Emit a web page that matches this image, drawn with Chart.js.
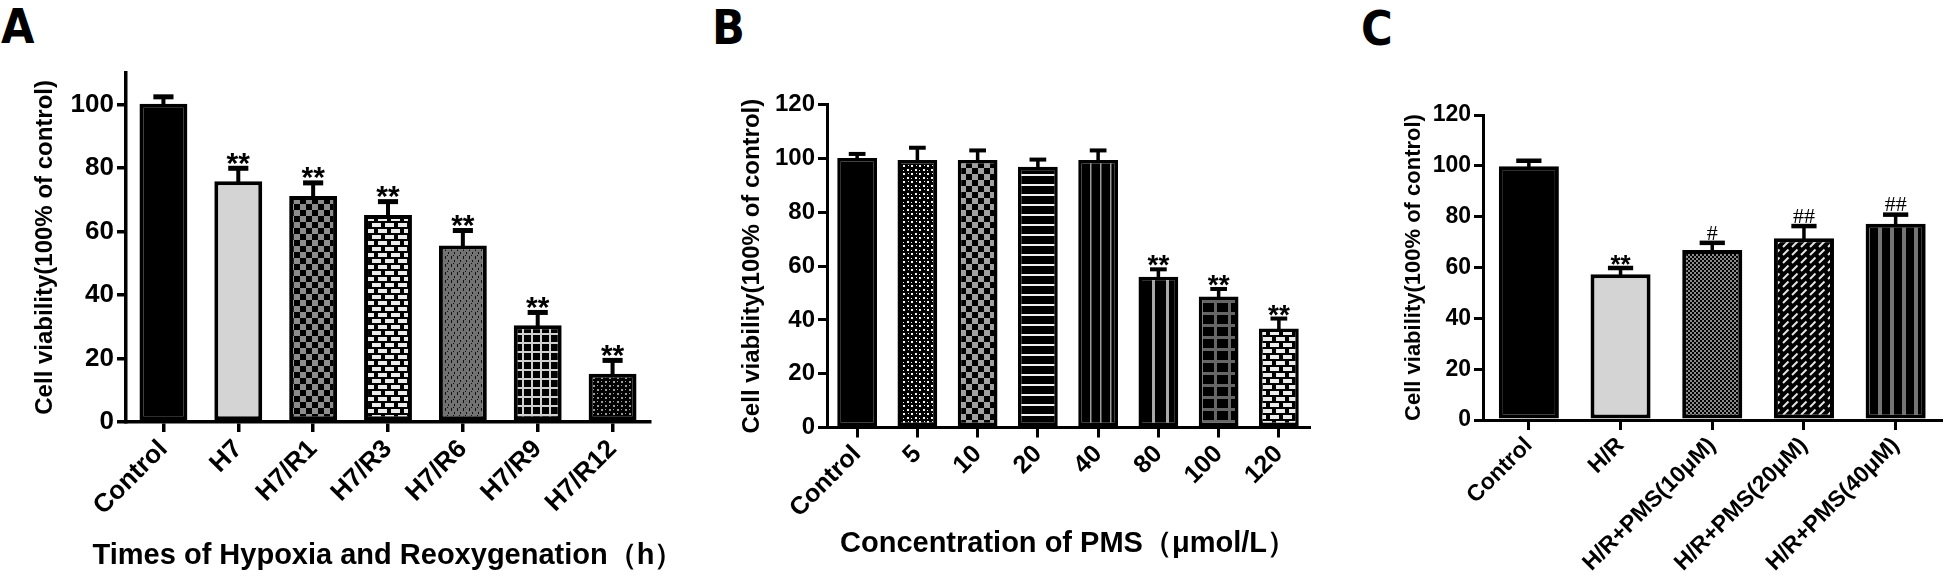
<!DOCTYPE html>
<html>
<head>
<meta charset="utf-8">
<script src="https://cdn.jsdelivr.net/npm/chart.js@4.4.1/dist/chart.umd.min.js"></script>
<style>
  body { margin: 0; background: #fff; width: 1944px; height: 578px; overflow: hidden; position: relative; }
  canvas { position: absolute; top: 0; }
  .tag { position: absolute; font: bold 48px 'Liberation Sans Narrow', 'DejaVu Sans Condensed', sans-serif; line-height: 1; color: #000; }
</style>
</head>
<body>
<div class="tag" style="left:1px;top:2px">A</div>
<div class="tag" style="left:712px;top:3px">B</div>
<div class="tag" style="left:1361px;top:4px">C</div>
<canvas id="chartA" width="700" height="578" style="left:0px"></canvas>
<canvas id="chartB" width="650" height="578" style="left:690px"></canvas>
<canvas id="chartC" width="594" height="578" style="left:1350px"></canvas>
<script>
// --- data ---
const catsA = ['Control', 'H7', 'H7/R1', 'H7/R3', 'H7/R6', 'H7/R9', 'H7/R12'];
const valsA = [100.2, 75.8, 71.2, 65.2, 55.6, 30.5, 15.2];
const errsA = [2.2, 4.1, 4.1, 4.2, 4.7, 4.0, 4.2];
const marksA = ['', '**', '**', '**', '**', '**', '**'];
const yTicksA = [0, 20, 40, 60, 80, 100];

const catsB = ['Control', '5', '10', '20', '40', '80', '100', '120'];
const valsB = [100.2, 99.4, 99.4, 96.9, 99.4, 56.0, 48.7, 36.8];
const errsB = [1.5, 4.6, 3.6, 2.7, 3.6, 2.8, 2.8, 3.7];
const marksB = ['', '', '', '', '', '**', '**', '**'];
const yTicksB = [0, 20, 40, 60, 80, 100, 120];

const catsC = ['Control', 'H/R', 'H/R+PMS(10μM)', 'H/R+PMS(20μM)', 'H/R+PMS(40μM)'];
const valsC = [99.8, 57.3, 66.9, 71.5, 77.2];
const errsC = [2.2, 2.5, 2.8, 4.8, 3.6];
const marksC = ['', '**', '#', '##', '##'];
const yTicksC = [0, 20, 40, 60, 80, 100, 120];

const yTitle = 'Cell viability(100% of control)';
const FONT = "'Liberation Sans', Arial, sans-serif";

Chart.defaults.color = '#000';
Chart.defaults.font.family = FONT;

// --- fill patterns ---
const makePattern = (w, h, draw) => {
    const c = document.createElement('canvas');
    c.width = w;
    c.height = h;
    const g = c.getContext('2d');
    draw(g, w, h);
    return g.createPattern(c, 'repeat');
};

const checker = (light, size) => makePattern(size * 2, size * 2, (g) => {
    g.fillStyle = '#000'; g.fillRect(0, 0, size * 2, size * 2);
    g.fillStyle = light;
    g.fillRect(0, 0, size, size);
    g.fillRect(size, size, size, size);
});

const brick = makePattern(13, 12, (g) => {
    g.fillStyle = '#000'; g.fillRect(0, 0, 13, 12);
    g.fillStyle = '#ececec';
    g.fillRect(1, 1, 9, 4);
    g.fillRect(8, 7, 5, 4);
    g.fillRect(0, 7, 4, 4);
});

const speckleGray = makePattern(6, 8, (g) => {
    g.fillStyle = '#727272'; g.fillRect(0, 0, 6, 8);
    g.fillStyle = '#111';
    g.fillRect(1, 0, 1, 3);
    g.fillRect(4, 4, 1, 2);
    g.fillRect(3, 7, 1, 1);
});

const whiteGrid = makePattern(9, 9, (g) => {
    g.fillStyle = '#000'; g.fillRect(0, 0, 9, 9);
    g.fillStyle = '#d0d0d0';
    g.fillRect(0, 0, 9, 2);
    g.fillRect(0, 0, 2, 9);
});

const grayDots = makePattern(8, 8, (g) => {
    g.fillStyle = '#000'; g.fillRect(0, 0, 8, 8);
    g.fillStyle = '#9a9a9a';
    g.fillRect(1, 1, 2, 2);
    g.fillRect(5, 5, 2, 2);
    g.fillRect(5, 1, 1, 1);
    g.fillRect(1, 5, 1, 1);
});

const whiteDots = makePattern(8, 8, (g) => {
    g.fillStyle = '#000'; g.fillRect(0, 0, 8, 8);
    g.fillStyle = '#f4f4f4';
    g.fillRect(1, 1, 2, 2);
    g.fillRect(5, 5, 2, 2);
    g.fillRect(5, 2, 1, 1);
    g.fillRect(2, 5, 1, 1);
});

const hLines = makePattern(4, 10, (g) => {
    g.fillStyle = '#000'; g.fillRect(0, 0, 4, 10);
    g.fillStyle = '#f0f0f0'; g.fillRect(0, 4, 4, 2);
});

const vLines = (period, width, color) => makePattern(period, 4, (g) => {
    g.fillStyle = '#000'; g.fillRect(0, 0, period, 4);
    g.fillStyle = color; g.fillRect(0, 0, width, 4);
});

const darkGrid = makePattern(14, 12, (g) => {
    g.fillStyle = '#000'; g.fillRect(0, 0, 14, 12);
    g.fillStyle = '#666';
    g.fillRect(0, 0, 14, 3);
    g.fillRect(6, 0, 3, 12);
});

const diagDashes = makePattern(9, 8, (g) => {
    g.fillStyle = '#000'; g.fillRect(0, 0, 9, 8);
    g.strokeStyle = '#e6e6e6';
    g.lineWidth = 2;
    g.beginPath();
    g.moveTo(1, 7); g.lineTo(6.5, 1.5);
    g.stroke();
});

const fillsA = ['#000', '#d4d4d4', checker('#8c8c8c', 6), brick, speckleGray, whiteGrid, grayDots];
const fillsB = ['#000', whiteDots, checker('#a0a0a0', 6), hLines, vLines(10, 1.5, '#9a9a9a'), vLines(14, 3, '#a8a8a8'), darkGrid, brick];
const fillsC = ['#000', '#d4d4d4', checker('#8a8a8a', 2), diagDashes, vLines(12, 4, '#747474')];

// --- error bars, significance marks, x title (no width squeeze) ---
const errorBarPlugin = {
    id: 'errorBars',
    afterDatasetsDraw(chart, args, opts) {
        const ctx = chart.ctx;
        const yScale = chart.scales.y;
        const values = chart.data.datasets[0].data;
        ctx.save();
        ctx.fillStyle = '#000';
        chart.getDatasetMeta(0).data.forEach((bar, i) => {
            const yTop = yScale.getPixelForValue(values[i]);
            const yCap = yScale.getPixelForValue(values[i] + opts.errors[i]);
            const capW = bar.width * opts.capFrac;
            ctx.fillRect(bar.x - opts.stem / 2, yCap, opts.stem, yTop - yCap + 2);
            ctx.fillRect(bar.x - capW / 2, yCap - opts.capH / 2, capW, opts.capH);
            const mark = opts.marks[i];
            if (mark) {
                ctx.font = mark.includes('#') ? opts.hashFont : opts.starFont;
                ctx.textAlign = 'center';
                ctx.textBaseline = 'alphabetic';
                const m = ctx.measureText(mark);
                ctx.fillText(mark, bar.x, yCap - opts.capH / 2 - opts.markGap - m.actualBoundingBoxDescent);
            }
        });
        if (opts.xTitle) {
            const area = chart.chartArea;
            ctx.font = opts.xTitleFont;
            ctx.textAlign = 'center';
            ctx.textBaseline = 'middle';
            ctx.fillText(opts.xTitle, (area.left + area.right) / 2, opts.xTitleY);
        }
        ctx.restore();
    }
};

const buildChart = (p) => {
    const H = 578;
    const lhY = p.yTitleSize * 1.2;
    const padLeft = p.yTitleX - p.canvasX - lhY / 2;
    const axisGrid = {
        offset: false,
        drawOnChartArea: false,
        drawTicks: true,
        color: '#000',
        lineWidth: p.lineW
    };
    return new Chart(document.getElementById(p.canvas), {
        type: 'bar',
        data: {
            labels: p.cats,
            datasets: [{
                data: p.vals,
                backgroundColor: p.fills,
                borderColor: '#000',
                borderWidth: p.barBorder,
                borderSkipped: false,
                categoryPercentage: 1,
                barPercentage: p.barPct
            }]
        },
        plugins: [errorBarPlugin],
        options: {
            responsive: false,
            animation: false,
            layout: {
                padding: { left: padLeft, top: p.top, right: p.canvasX + p.canvasW - p.right, bottom: 0 }
            },
            plugins: {
                legend: { display: false },
                tooltip: { enabled: false },
                errorBars: {
                    errors: p.errs,
                    marks: p.marks,
                    capFrac: 0.42,
                    capH: p.capH,
                    stem: p.stem,
                    markGap: 1,
                    starFont: `bold ${p.starSize}px ${FONT}`,
                    hashFont: `${p.hashSize}px 'Liberation Serif', serif`,
                    xTitle: p.xTitle,
                    xTitleY: p.xTitleY,
                    xTitleFont: `bold ${p.xTitleSize}px ${FONT}`
                }
            },
            scales: {
                x: {
                    offset: true,
                    grid: { ...axisGrid, tickLength: 10 },
                    border: { display: true, color: '#000', width: p.lineW },
                    ticks: {
                        autoSkip: false,
                        minRotation: 45,
                        maxRotation: 45,
                        padding: 2,
                        color: '#000',
                        font: { family: FONT, weight: 'bold', size: p.xTickSize }
                    },
                    afterFit: (s) => { s.height = H - p.bottom; }
                },
                y: {
                    min: 0,
                    max: p.yMax,
                    afterBuildTicks: (s) => { s.ticks = p.yTicks.map(v => ({ value: v })); },
                    grid: { ...axisGrid, tickLength: 9 },
                    border: { display: true, color: '#000', width: p.lineW },
                    ticks: {
                        padding: 3,
                        color: '#000',
                        font: { family: FONT, weight: 'bold', size: p.yTickSize }
                    },
                    title: {
                        display: true,
                        text: yTitle,
                        color: '#000',
                        font: { family: FONT, weight: 'bold', size: p.yTitleSize },
                        padding: { top: 0, bottom: 0 }
                    },
                    afterFit: (s) => { s.width = p.left - p.canvasX - padLeft; }
                }
            }
        }
    });
};

buildChart({
    canvas: 'chartA', canvasX: 0, canvasW: 700,
    cats: catsA, vals: valsA, errs: errsA, marks: marksA, yTicks: yTicksA, fills: fillsA,
    yMax: 110, left: 126, right: 650, top: 72.7, bottom: 422,
    yTitleX: 45, xTitle: 'Times of Hypoxia and Reoxygenation（h）', xTitleY: 556,
    yTickSize: 26, xTickSize: 26, yTitleSize: 24, xTitleSize: 29,
    lineW: 3.5, barBorder: 4, barPct: 0.64, capH: 5, stem: 4, starSize: 30, hashSize: 20
});

buildChart({
    canvas: 'chartB', canvasX: 690, canvasW: 650,
    cats: catsB, vals: valsB, errs: errsB, marks: marksB, yTicks: yTicksB, fills: fillsB,
    yMax: 120, left: 827, right: 1309, top: 104.7, bottom: 427.5,
    yTitleX: 752, xTitle: 'Concentration of PMS（μmol/L）', xTitleY: 544,
    yTickSize: 24, xTickSize: 25, yTitleSize: 24, xTitleSize: 29,
    lineW: 3, barBorder: 3.5, barPct: 0.66, capH: 4, stem: 3.5, starSize: 28, hashSize: 20
});

buildChart({
    canvas: 'chartC', canvasX: 1350, canvasW: 594,
    cats: catsC, vals: valsC, errs: errsC, marks: marksC, yTicks: yTicksC, fills: fillsC,
    yMax: 120, left: 1483, right: 1941.5, top: 115, bottom: 420,
    yTitleX: 1413.5, xTitle: '', xTitleY: 560,
    yTickSize: 23, xTickSize: 23, yTitleSize: 22, xTitleSize: 22,
    lineW: 3, barBorder: 4, barPct: 0.655, capH: 4.5, stem: 3.5, starSize: 26, hashSize: 22
});
</script>
</body>
</html>
